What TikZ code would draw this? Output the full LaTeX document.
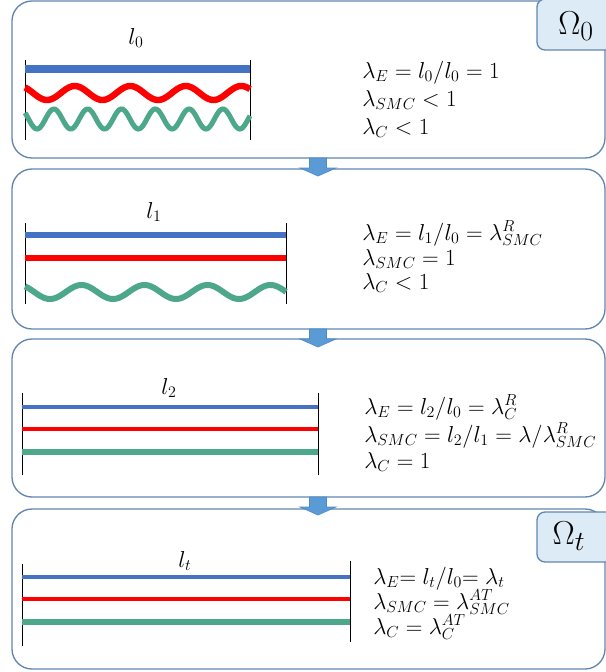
\documentclass[tikz,border=0pt]{standalone}
\definecolor{pbord}{HTML}{6186B0}
\definecolor{lblue}{HTML}{4472C4}
\definecolor{lred}{HTML}{FF0000}
\definecolor{lgreen}{HTML}{4DA88B}
\definecolor{arrfill}{HTML}{5B9BD5}
\definecolor{arrbord}{HTML}{4F8AC9}
\definecolor{omfill}{HTML}{DDEBF7}
\begin{document}
\begin{tikzpicture}[x=0.75pt,y=-0.75pt,
  panel/.style={draw=pbord, line width=1pt, rounded corners=15pt, fill=white},
  tick/.style={draw=black, line width=0.75pt},
  eq/.style={anchor=base west, inner sep=0pt, font=\fontsize{17.28}{20}\selectfont},
  lab/.style={inner sep=0pt, font=\fontsize{17.28}{20}\selectfont},
  omega/.style={draw=pbord, fill=omfill, line width=1pt, rounded corners=6pt},
  omtext/.style={inner sep=0pt, font=\fontsize{24.88}{28}\selectfont},
  blockarrow/.style={fill=arrfill, draw=arrbord, line width=0.5pt}]
\useasboundingbox (0,0) rectangle (606,672);
\clip (0,0) rectangle (606,672);
% panels
\draw[panel] (12,1) rectangle (605,158);
\draw[panel] (12,169) rectangle (605,329);
\draw[panel] (12,339) rectangle (605,497);
\draw[panel] (12,509) rectangle (605,669);
% arrows between panels
\coordinate (a1) at (318,158);
\coordinate (a2) at (318,329);
\coordinate (a3) at (318,497);
\foreach \a in {a1,a2,a3}{
  \filldraw[blockarrow] (\a) ++(-8.5,0) -- ++(17,0) -- ++(0,10) -- ++(9.5,0) -- ++(-18,8) -- ++(-18,-8) -- ++(9.5,0) -- cycle;
}
% Omega boxes
\draw[omega] (537,-1) rectangle (614,50);
\node[omtext] (om0) at (576,26) {$\Omega_0$};
\draw[omega] (537,512) rectangle (614,562);
\node[omtext] (omt) at (569,536) {$\Omega_t$};
% ---- panel 1
\node[lab] (l0) at (136,38) {$l_0$};
\draw[tick] (25,60) -- (25,140);
\draw[tick] (250,60) -- (250,140);
\draw[lblue, line width=6pt] (25,69) -- (250,69);
\draw[lred, line width=4.8pt] plot[domain=25:250, samples=160] (\x,{93+7*cos((\x-47)/55.5*360)});
\draw[lgreen, line width=3.8pt] plot[domain=25:250, samples=200] (\x,{119+10*cos((\x-37)/33.8*360)});
\node[eq] (e11) at (362,78) {$\lambda_E = l_0/l_0 = 1$};
\node[eq] (e12) at (362,106) {$\lambda_{SMC} < 1$};
\node[eq] (e13) at (362,134) {$\lambda_C < 1$};
% ---- panel 2
\node[lab] (l1) at (154,212) {$l_1$};
\draw[tick] (25,223) -- (25,304);
\draw[tick] (286,223) -- (286,304);
\draw[lblue, line width=4.5pt] (25,235) -- (286,235);
\draw[lred, line width=4.5pt] (25,258) -- (286,258);
\draw[lgreen, line width=4.5pt] plot[domain=25:286, samples=160] (\x,{292+7*cos((\x-50)/63*360)});
\node[eq] (e21) at (362,240) {$\lambda_E = l_1/l_0 = \lambda^R_{SMC}$};
\node[eq] (e22) at (362,265) {$\lambda_{SMC} = 1$};
\node[eq] (e23) at (362,289) {$\lambda_C < 1$};
% ---- panel 3
\node[lab] (l2) at (169,388) {$l_2$};
\draw[tick] (22,393) -- (22,475);
\draw[tick] (318,393) -- (318,475);
\draw[lblue, line width=2.3pt] (22,407) -- (318,407);
\draw[lred, line width=3.4pt] (22,429) -- (318,429);
\draw[lgreen, line width=4.5pt] (22,452) -- (318,452);
\node[eq] (e31) at (364,414) {$\lambda_E = l_2/l_0 = \lambda^R_C$};
\node[eq] (e32) at (364,442) {$\lambda_{SMC} = l_2/l_1 = \lambda/\lambda^R_{SMC}$};
\node[eq] (e33) at (364,468) {$\lambda_C = 1$};
% ---- panel 4
\node[lab] (lt) at (185,561) {$l_t$};
\draw[tick] (22,564) -- (22,646);
\draw[tick] (350,561) -- (350,642);
\draw[lblue, line width=2.6pt] (22,577) -- (350,577);
\draw[lred, line width=3pt] (22,599) -- (350,599);
\draw[lgreen, line width=4.5pt] (22,622) -- (350,622);
\node[eq] (e41) at (373,584) {$\lambda_E{=}\; l_t/l_0{=}\;\lambda_t$};
\node[eq] (e42) at (373,609) {$\lambda_{SMC} = \lambda^{AT}_{SMC}$};
\node[eq] (e43) at (373,634) {$\lambda_C = \lambda^{AT}_C$};
\end{tikzpicture}
\end{document}
